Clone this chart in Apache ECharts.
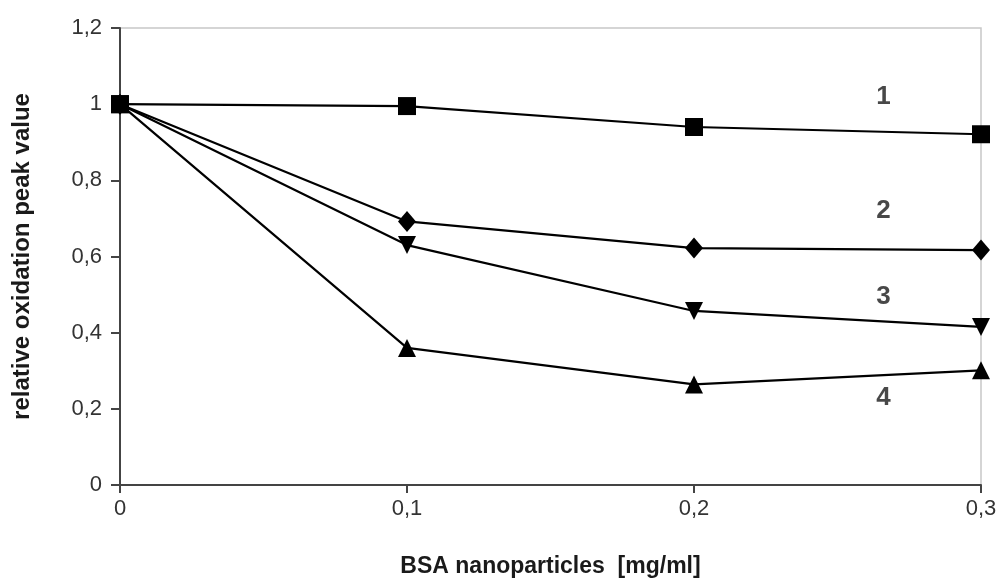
<!DOCTYPE html>
<html><head><meta charset="utf-8">
<script src="https://cdn.jsdelivr.net/npm/echarts@6/dist/echarts.min.js"></script>
<style>html,body{margin:0;padding:0;background:#fff}#c{width:1000px;height:580px}</style>
</head><body><div id="c"></div>
<script>
const xValues = [0, 0.1, 0.2, 0.3];
const series1 = [1.0, 0.995, 0.94, 0.921];
const series2 = [1.0, 0.692, 0.622, 0.617];
const series3 = [1.0, 0.63, 0.457, 0.415];
const series4 = [1.0, 0.36, 0.264, 0.301];
const seriesNames = ['1', '2', '3', '4'];
const seriesSymbols = ['rect', 'diamond', 'triangle', 'triangle'];
const labelX = [0.266, 0.266, 0.266, 0.266];
const labelY = [1.02, 0.72, 0.493, 0.228];
const xTicks = { min: 0, max: 0.3, interval: 0.1 };
const yTicks = { min: 0, max: 1.2, interval: 0.2 };
const xTitle = 'BSA nanoparticles  [mg/ml]';
const yTitle = 'relative oxidation peak value';

const allData = [series1, series2, series3, series4];
const fmt = v => String(Math.round(v * 10) / 10).replace('.', ',');
const font = 'Liberation Sans, Arial, sans-serif';
const sizes = [18, [18, 21], 18, 18];

const lineSeries = allData.map((d, i) => ({
  type: 'line',
  name: seriesNames[i],
  data: d.map((v, j) => [xValues[j], v]),
  symbol: seriesSymbols[i],
  symbolSize: sizes[i],
  symbolRotate: i === 2 ? 180 : 0,
  lineStyle: { color: '#000', width: 2.2 },
  itemStyle: { color: '#000' },
  z: 3
}));

const labelSeries = {
  type: 'scatter',
  symbolSize: 0,
  silent: true,
  data: seriesNames.map((n, i) => ({ value: [labelX[i], labelY[i]], name: n })),
  label: {
    show: true, position: 'inside', formatter: p => p.name,
    color: '#1a1a1a', fontSize: 26, fontWeight: 'bold', fontFamily: font
  }
};

const chart = echarts.init(document.getElementById('c'), null, { renderer: 'canvas' });
chart.setOption({
  animation: false,
  backgroundColor: '#fff',
  grid: { left: 120, right: 19, top: 28, bottom: 95, containLabel: false, outerBoundsMode: 'none',
          show: true, borderColor: '#c8c8c8', borderWidth: 1.5 },
  xAxis: {
    type: 'value', min: xTicks.min, max: xTicks.max, interval: xTicks.interval,
    name: xTitle, nameLocation: 'middle', nameGap: 70,
    nameTextStyle: { fontSize: 23, fontWeight: 'bold', color: '#1a1a1a', fontFamily: font },
    axisLine: { show: true, lineStyle: { color: '#444', width: 2 } },
    axisTick: { show: true, length: 8, lineStyle: { color: '#444', width: 2 } },
    axisLabel: { formatter: fmt, fontSize: 22, color: '#333', margin: 13, fontFamily: font },
    splitLine: { show: false }
  },
  yAxis: {
    type: 'value', min: yTicks.min, max: yTicks.max, interval: yTicks.interval,
    name: yTitle, nameLocation: 'middle', nameGap: 86, nameRotate: 90,
    nameTextStyle: { fontSize: 24, fontWeight: 'bold', color: '#1a1a1a', fontFamily: font },
    axisLine: { show: true, lineStyle: { color: '#444', width: 2 } },
    axisTick: { show: true, length: 9, lineStyle: { color: '#444', width: 2 } },
    axisLabel: { formatter: fmt, fontSize: 22, color: '#333', margin: 18, fontFamily: font },
    splitLine: { show: false }
  },
  series: [...lineSeries, labelSeries]
});
</script>
</body></html>
